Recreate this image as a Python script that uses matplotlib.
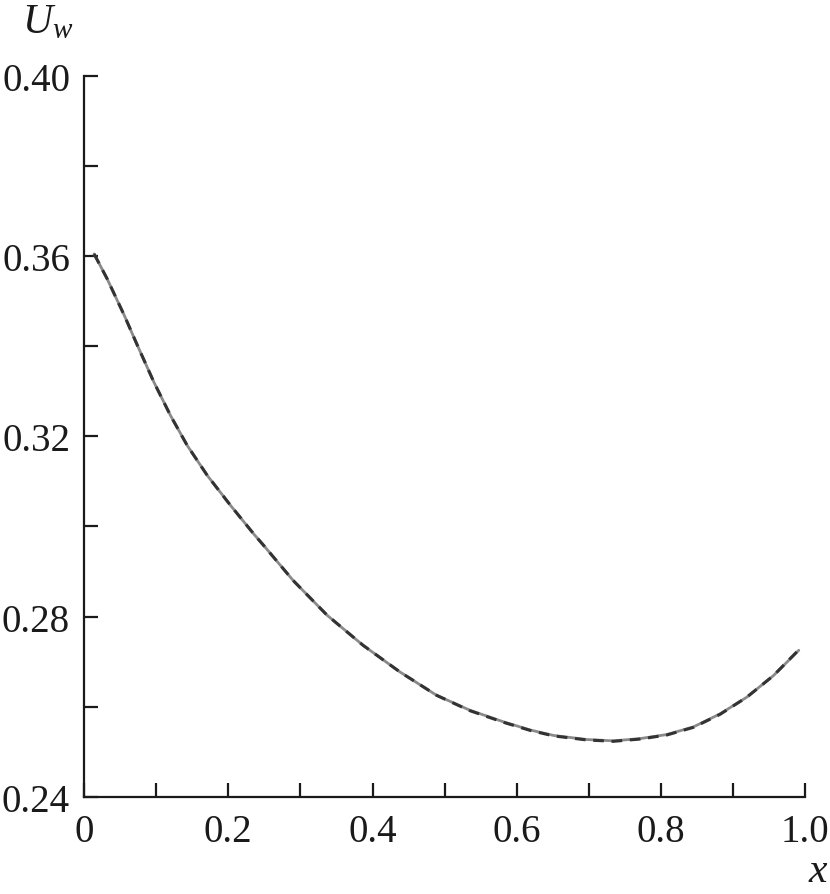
import matplotlib
matplotlib.use("Agg")
import matplotlib.pyplot as plt
from matplotlib.ticker import FixedLocator

# Data
x_solid = [0.014, 0.032, 0.056, 0.074, 0.097, 0.120, 0.143, 0.171, 0.203, 0.236,
           0.249, 0.290, 0.337, 0.387, 0.438, 0.489, 0.535, 0.582, 0.619, 0.651,
           0.697, 0.734, 0.771, 0.808, 0.845, 0.882, 0.919, 0.956, 0.991]
u_solid = [0.3605, 0.3550, 0.3468, 0.3402, 0.3320, 0.3246, 0.3180, 0.3113, 0.3047, 0.2982,
           0.2958, 0.2880, 0.2803, 0.2736, 0.2677, 0.2625, 0.2592, 0.2566, 0.2548, 0.2536,
           0.2527, 0.2524, 0.2529, 0.2538, 0.2555, 0.2584, 0.2621, 0.2669, 0.2725]
x_dashed = x_solid
u_dashed = [0.3605, 0.3550, 0.3468, 0.3402, 0.3320, 0.3246, 0.3180, 0.3113, 0.3047, 0.2982,
            0.2958, 0.2880, 0.2803, 0.2736, 0.2677, 0.2625, 0.2591, 0.2565, 0.2547, 0.2535,
            0.2526, 0.2523, 0.2528, 0.2537, 0.2554, 0.2583, 0.2621, 0.2669, 0.2726]

x_ticks = [0, 0.2, 0.4, 0.6, 0.8, 1.0]
x_labels = ["0", "0.2", "0.4", "0.6", "0.8", "1.0"]
x_minor = [0.1, 0.3, 0.5, 0.7, 0.9]
y_ticks = [0.24, 0.28, 0.32, 0.36, 0.40]
y_labels = ["0.24", "0.28", "0.32", "0.36", "0.40"]
y_minor = [0.26, 0.30, 0.34, 0.38]

plt.rcParams['font.family'] = ['Liberation Serif', 'DejaVu Serif']
plt.rcParams['mathtext.fontset'] = 'custom'
plt.rcParams['mathtext.it'] = 'Liberation Serif:italic'
plt.rcParams['mathtext.rm'] = 'Liberation Serif'

fig = plt.figure(figsize=(8.3, 8.95), dpi=100)
ax = fig.add_axes([0.1012, 0.1087, 0.8690, 0.8053])

ax.plot(x_solid, u_solid, color="#8a8a8a", lw=2.0, solid_capstyle='round',
        solid_joinstyle='round')
ax.plot(x_dashed, u_dashed, color="#333333", lw=2.2, dashes=(3.5, 2.5))

ax.set_xlim(0, 1.0)
ax.set_ylim(0.24, 0.40)

ax.set_xticks(x_ticks)
ax.set_xticklabels(x_labels)
ax.set_yticks(y_ticks)
ax.set_yticklabels(y_labels)
ax.xaxis.set_minor_locator(FixedLocator(x_minor))
ax.yaxis.set_minor_locator(FixedLocator(y_minor))

for s in ['top', 'right']:
    ax.spines[s].set_visible(False)
for s in ['left', 'bottom']:
    ax.spines[s].set_linewidth(1.6)
    ax.spines[s].set_color('#1a1a1a')

ax.tick_params(which='both', direction='in', length=10, width=1.6, color='#1a1a1a',
               labelsize=28, labelcolor='#1a1a1a')
ax.tick_params(axis='x', which='major', pad=12)
ax.tick_params(axis='y', which='major', pad=10)

fig.text(0.0265, 0.963, r"$U_w$", fontsize=30, ha='left', va='baseline', color='#1a1a1a')
fig.text(0.999, 0.0145, r"$x$", fontsize=30, ha='right', va='baseline', color='#1a1a1a')

fig.savefig("out.png", dpi=100)
